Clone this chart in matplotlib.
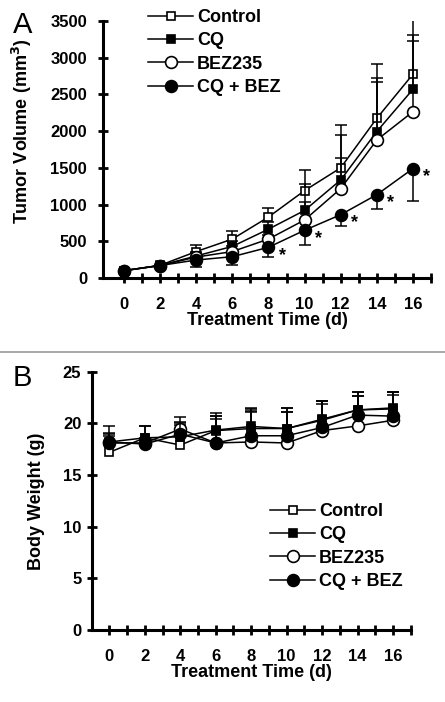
import numpy as np
import matplotlib
matplotlib.use("Agg")
import matplotlib.pyplot as plt

plt.rcParams['font.family'] = ['Liberation Sans', 'DejaVu Sans']
plt.rcParams['font.weight'] = 'bold'

# ---------------- data ----------------
days = [0, 2, 4, 6, 8, 10, 12, 14, 16]
groups = ["Control", "CQ", "BEZ235", "CQ + BEZ"]

# Panel A: tumor volume (mm^3)
vol_control = [100, 173, 360, 530, 830, 1190, 1500, 2175, 2775]
vol_cq      = [100, 170, 300, 430, 665, 920, 1335, 1995, 2570]
vol_bez     = [100, 170, 285, 360, 530, 790, 1217, 1880, 2265]
vol_cqbez   = [100, 170, 245, 290, 418, 650, 862, 1135, 1490]
err_control = [0, 10, 85, 110, 130, 280, 580, 740, 830]
err_cq      = [0, 10, 60, 80, 100, 120, 305, 725, 660]
err_bez     = [0, 10, 50, 70, 60, 490, 730, 785, 1050]
err_cqbez   = [0, 10, 90, 108, 128, 195, 158, 200, 440]   # drawn downward
signif_days = [8, 10, 12, 14, 16]

# Panel B: body weight (g)
bw_control = [17.2, 18.6, 17.9, 19.3, 19.5, 19.5, 20.3, 21.3, 21.4]
bw_cq      = [18.2, 18.6, 18.7, 19.35, 19.7, 19.5, 20.4, 21.3, 21.5]
bw_bez     = [18.1, 18.1, 19.45, 18.1, 18.2, 18.1, 19.3, 19.75, 20.3]
bw_cqbez   = [18.2, 18.0, 18.95, 18.1, 18.8, 18.8, 19.6, 20.8, 20.7]
bwerr_control = [2.5, 1.1, 1.9, 1.1, 1.6, 1.6, 1.9, 1.7, 1.6]
bwerr_cq      = [0.6, 1.1, 1.3, 1.4, 1.5, 1.6, 1.5, 1.3, 1.2]
bwerr_bez     = [0.9, 0.5, 1.2, 2.9, 3.2, 3.4, 2.9, 3.3, 2.7]
bwerr_cqbez   = [0.9, 0.4, 1.2, 2.6, 2.7, 2.7, 2.6, 1.8, 2.3]

xtick_labels = ["0", "2", "4", "6", "8", "10", "12", "14", "16"]

# ---------------- styles ----------------
styles = [
    dict(marker='s', mfc='white', ms=6.0),
    dict(marker='s', mfc='black', ms=6.0),
    dict(marker='o', mfc='white', ms=8.5),
    dict(marker='o', mfc='black', ms=8.5),
]

W, H = 445, 702
fig = plt.figure(figsize=(W / 100, H / 100), dpi=100)


def px_axes(left, right, top, bottom):
    return fig.add_axes([left / W, 1 - bottom / H, (right - left) / W, (bottom - top) / H])


def style_axes(ax, ylabel_pad):
    for s in ['top', 'right']:
        ax.spines[s].set_visible(False)
    for s in ['left', 'bottom']:
        ax.spines[s].set_linewidth(2.2)
    ax.tick_params(axis='both', which='both', direction='inout', width=2.0,
                   length=7, labelsize=12)
    ax.tick_params(axis='y', pad=ylabel_pad)
    ax.tick_params(axis='x', pad=10)
    for lab in ax.get_xticklabels() + ax.get_yticklabels():
        lab.set_fontweight('bold')


def draw_series(ax, x, y, err, st, label, down=False, capw=9, lw=1.1, z=3):
    x = np.asarray(x, float)
    y = np.asarray(y, float)
    e = np.asarray(err, float)
    end = y - e if down else y + e
    ax.vlines(x, y, end, colors='black', lw=lw, zorder=z)
    ax.plot(x, end, ls='none', marker='_', ms=capw, mew=lw, color='black', zorder=z)
    ax.plot(x, y, color='black', lw=lw, marker=st['marker'], mfc=st['mfc'],
            mec='black', mew=1.2, ms=st['ms'], label=label, zorder=z + 1)


# ---------------- Panel A ----------------
axA = px_axes(103, 431, 21, 278)
axA.set_xlim(-1.16, 17)
axA.set_ylim(0, 3500)
axA.set_xticks(days)
axA.set_xticklabels(xtick_labels)
axA.set_xticks(np.arange(1, 18, 2), minor=True)
axA.set_yticks(np.arange(0, 3501, 500))
style_axes(axA, 8)

vols = [vol_control, vol_cq, vol_bez, vol_cqbez]
errs = [err_control, err_cq, err_bez, err_cqbez]
for i, (v, e, st, g) in enumerate(zip(vols, errs, styles, groups)):
    draw_series(axA, days, v, e, st, g, down=(i == 3), z=3 + 2 * i)

for d in signif_days:
    idx = days.index(d)
    axA.annotate('*', xy=(d, vol_cqbez[idx]), xytext=(10, -6),
                 textcoords='offset points', ha='center', va='center',
                 fontsize=13, fontweight='bold')

axA.set_ylabel("Tumor Volume (mm$^\\mathbf{3}$)", fontsize=13, fontweight='bold')
axA.yaxis.set_label_coords(-0.21, 0.57)
axA.set_xlabel("Treatment Time (d)", fontsize=13, fontweight='bold', labelpad=0)

legA = axA.legend(loc='upper left', bbox_to_anchor=(148 / W, 1 - 9 / H),
                  bbox_transform=fig.transFigure, frameon=False, fontsize=13,
                  handlelength=2.5, handletextpad=0.2, labelspacing=0.35,
                  borderpad=0, borderaxespad=0)
for t in legA.get_texts():
    t.set_fontweight('bold')

fig.text(23 / W, 1 - 25 / H, "A", fontsize=21, ha='center', va='center',
         fontweight='normal')

# separator
fig.add_artist(plt.Line2D([0, 1], [1 - 352 / H, 1 - 352 / H],
                          transform=fig.transFigure, color='#9a9a9a', lw=1.2))

# ---------------- Panel B ----------------
axB = px_axes(91.7, 410.7, 371.7, 630)
axB.set_xlim(-1, 17)
axB.set_ylim(0, 25)
axB.set_xticks(days)
axB.set_xticklabels(xtick_labels)
axB.set_xticks(np.arange(1, 18, 2), minor=True)
axB.set_yticks(np.arange(0, 26, 5))
style_axes(axB, 4)

bws = [bw_control, bw_cq, bw_bez, bw_cqbez]
bwerrs = [bwerr_control, bwerr_cq, bwerr_bez, bwerr_cqbez]
for i, (v, e, st, g) in enumerate(zip(bws, bwerrs, styles, groups)):
    draw_series(axB, days, v, e, st, g, down=False, z=3 + 2 * i)

axB.set_ylabel("Body Weight (g)", fontsize=13, fontweight='bold')
axB.yaxis.set_label_coords(-0.145, 0.5)
axB.set_xlabel("Treatment Time (d)", fontsize=13, fontweight='bold', labelpad=0)

legB = axB.legend(loc='upper left', bbox_to_anchor=(270 / W, 1 - 503 / H),
                  bbox_transform=fig.transFigure, frameon=False, fontsize=13,
                  handlelength=2.5, handletextpad=0.2, labelspacing=0.35,
                  borderpad=0, borderaxespad=0)
for t in legB.get_texts():
    t.set_fontweight('bold')

fig.text(22 / W, 1 - 378 / H, "B", fontsize=21, ha='center', va='center',
         fontweight='normal')

fig.savefig("out.png", dpi=100)
